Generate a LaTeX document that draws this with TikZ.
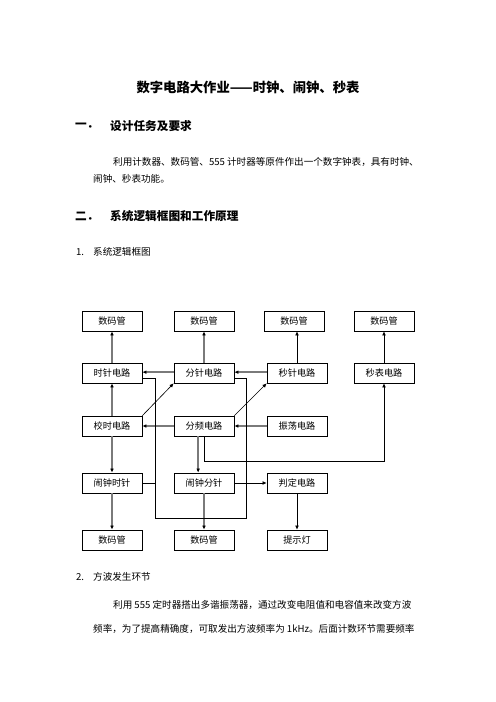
\documentclass[tikz,border=0pt]{standalone}
\usepackage{fontspec}
\setmainfont{Noto Sans CJK SC}
\usetikzlibrary{arrows.meta}
\definecolor{lnGray}{HTML}{7A7A7A}
\tikzset{
  blk/.style={draw, line width=0.75pt, minimum width=72pt, minimum height=24pt, inner sep=0pt, font=\fontsize{11}{13}\selectfont},
  gline/.style={draw=lnGray, line width=2.1pt, -{Latex[length=5pt,width=4.5pt,color=black]}},
  bline/.style={line width=0.75pt, -{Latex[length=5pt,width=4.5pt]}},
  wire/.style={line width=0.75pt},
  txt/.style={anchor=west, inner sep=0pt, font=\fontsize{11.5}{14}\selectfont},
  hd/.style={anchor=west, inner sep=0pt, font=\bfseries\fontsize{14}{16}\selectfont},
}
\begin{document}
\begin{tikzpicture}[x=1.2pt, y=-1.2pt]
        \useasboundingbox (0,0) rectangle (496,702);
        \node[font=\bfseries\fontsize{16}{18}\selectfont] (ttl) at (248,87) {数字电路大作业——时钟、闹钟、秒表};
        \node[hd]  (h1n) at (75,126)  {一．};
        \node[hd]  (h1)  at (110,126) {设计任务及要求};
        \node[txt] (p1a) at (113,162) {利用计数器、数码管、555 计时器等原件作出一个数字钟表，具有时钟、};
        \node[txt] (p1b) at (93,179)  {闹钟、秒表功能。};
        \node[hd]  (h2n) at (75,216)  {二．};
        \node[hd]  (h2)  at (110,216) {系统逻辑框图和工作原理};
        \node[txt] (s1n) at (76,252)  {1.};
        \node[txt] (s1)  at (93,252)  {系统逻辑框图};
        % blocks
        \node[blk] (dpH)  at (112,321) {数码管};
        \node[blk] (dpM)  at (204,321) {数码管};
        \node[blk] (dpS)  at (294,321) {数码管};
        \node[blk] (dpW)  at (384,321) {数码管};
        \node[blk] (hr)   at (112,373) {时针电路};
        \node[blk] (mn)   at (204,373) {分针电路};
        \node[blk] (sc)   at (297,373) {秒针电路};
        \node[blk] (sw)   at (384,373) {秒表电路};
        \node[blk] (adj)  at (112,426) {校时电路};
        \node[blk] (div)  at (204,426) {分频电路};
        \node[blk] (osc)  at (297,426) {振荡电路};
        \node[blk] (ah)   at (112,483) {闹钟时针};
        \node[blk] (am)   at (204,483) {闹钟分针};
        \node[blk] (cmp)  at (297,483) {判定电路};
        \node[blk] (dpA)  at (112,540) {数码管};
        \node[blk] (dpB)  at (204,540) {数码管};
        \node[blk] (lamp) at (297,540) {提示灯};
        \coordinate (lpL) at (155,518);
        \coordinate (lpR) at (246,518);
        \coordinate (swc) at (384,461);
        % connectors
        \draw[gline] (hr) -- (dpH);
        \draw[gline] (mn) -- (dpM);
        \draw[bline] (sc.north) -- (sc.north |- dpS.south);
        \draw[bline] (sw) -- (dpW);
        \draw[gline] ([yshift=1pt]mn.west) -- ([yshift=1pt]hr.east);
        \draw[gline] ([yshift=1pt]sc.west) -- ([yshift=1pt]mn.east);
        \draw[gline] (adj) -- (hr);
        \draw[bline] (adj.north east) -- (mn.south west);
        \draw[bline] (div.north east) -- (sc.south west);
        \draw[gline] (div) -- (adj);
        \draw[gline] (osc) -- (div);
        \draw[gline] (adj) -- (ah);
        \draw[gline] ([xshift=-7pt]div.south) -- ([xshift=-7pt]am.north);
        \draw[gline] (ah) -- (dpA);
        \draw[gline] (am) -- (dpB);
        \draw[bline] (cmp) -- (lamp);
        \draw[bline] (am) -- (cmp);
        \draw[wire]  ([yshift=-6pt]hr.east) -| (lpL) -- (lpR) |- ([yshift=-6pt]mn.east);
        \draw[wire]  (ah.east) -- (ah.east -| lpL);
        \draw[bline] (div.south) |- (swc) -- (sw.south);
        % text below
        \node[txt] (s2n) at (76,577)  {2.};
        \node[txt] (s2)  at (93,577)  {方波发生环节};
        \node[txt] (p2a) at (113,605) {利用 555 定时器搭出多谐振荡器，通过改变电阻值和电容值来改变方波};
        \node[txt] (p2b) at (93,629)  {频率，为了提高精确度，可取发出方波频率为 1kHz。后面计数环节需要频率};
\end{tikzpicture}
\end{document}
